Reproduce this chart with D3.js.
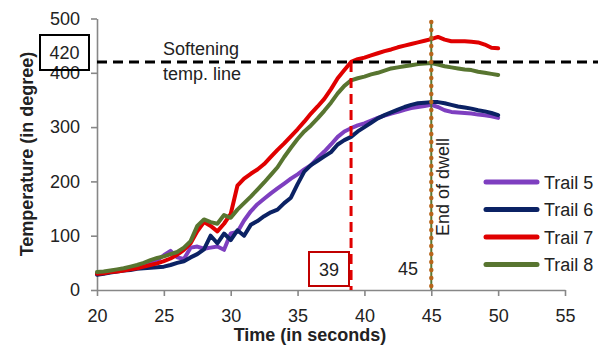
<!DOCTYPE html>
<html>
<head>
<meta charset="utf-8">
<script src="https://d3js.org/d3.v7.min.js"></script>
<style>
  body { margin: 0; background: #fff; }
  svg text { font-family: "Liberation Sans", Arial, sans-serif; fill: #222; }
</style>
</head>
<body>
<div id="chart"></div>
<script>
// time in seconds, sampled every half second
var time = [20,20.5,21,21.5,22,22.5,23,23.5,24,24.5,25,25.5,26,26.5,27,27.5,28,28.5,29,29.5,
            30,30.5,31,31.5,32,32.5,33,33.5,34,34.5,35,35.5,36,36.5,37,37.5,38,38.5,39,39.5,
            40,40.5,41,41.5,42,42.5,43,43.5,44,44.5,45,45.5,46,46.5,47,47.5,48,48.5,49,49.5,50];

var trail5 = [30,31,33,35,37,39,42,46,50,55,64,72,60,57,78,80,76,78,80,74,
              104,107,128,145,158,168,178,187,196,205,213,222,230,243,255,268,282,292,298,303,
              307,312,317,321,325,328,332,335,337,339,341,337,331,328,327,326,325,323,322,320,317];
var trail6 = [28,30,32,34,36,37,39,40,41,42,43,46,50,53,60,66,75,100,86,104,
              92,110,100,120,127,136,143,148,160,170,195,218,230,238,246,254,268,276,282,292,
              300,308,316,322,327,332,337,341,344,345,346,346,344,341,338,336,334,331,329,326,322];
var trail7 = [30,31,33,34,36,38,40,43,46,49,53,58,65,74,86,108,125,118,108,122,
              140,192,205,214,222,232,245,258,270,283,296,310,325,338,352,370,390,405,420,425,
              428,432,436,440,443,447,450,453,456,459,462,466,461,458,458,458,457,456,452,446,445];
var trail8 = [33,34,36,38,40,43,46,50,55,59,62,66,70,78,90,118,130,125,122,138,
              133,148,160,172,185,198,212,226,245,262,278,292,303,316,330,345,362,376,386,390,
              393,397,400,404,408,410,412,414,416,417,418,415,412,410,408,406,405,402,400,398,396];

var seriesNames = ["Trail 5", "Trail 6", "Trail 7", "Trail 8"];
var seriesColors = ["#7e3fc0", "#0b2264", "#e00000", "#587530"];
var seriesValues = [trail5, trail6, trail7, trail8];

var xTicks = [20, 25, 30, 35, 40, 45, 50, 55];
var yTicks = [0, 100, 200, 300, 400, 500];

var softeningTemp = 420;
var crossTime = 39;
var dwellTime = 45;

var width = 610, height = 350;
var margin = {left: 97, right: 45, top: 18.5, bottom: 60};

var svg = d3.select("#chart").append("svg")
    .attr("width", width)
    .attr("height", height);

var x = d3.scaleLinear().domain([20, 55]).range([margin.left, width - margin.right]);
var y = d3.scaleLinear().domain([0, 500]).range([height - margin.bottom, margin.top]);

// axes
var xAxis = svg.append("g")
    .attr("transform", "translate(0," + y(0) + ")")
    .call(d3.axisBottom(x).tickValues(xTicks).tickSize(6).tickPadding(13).tickSizeOuter(0));
var yAxis = svg.append("g")
    .attr("transform", "translate(" + x(20) + ",0)")
    .call(d3.axisLeft(y).tickValues(yTicks).tickSize(6).tickPadding(11).tickSizeOuter(0));

[xAxis, yAxis].forEach(function(ax) {
    ax.select(".domain").attr("stroke", "#878787").attr("stroke-width", 1.6);
    ax.selectAll(".tick line").attr("stroke", "#878787").attr("stroke-width", 1.6);
    ax.selectAll(".tick text").style("font-size", "18px").attr("fill", "#222");
});

// axis titles
svg.append("text")
    .attr("x", 310).attr("y", 341)
    .attr("text-anchor", "middle")
    .style("font-size", "18px").style("font-weight", "bold")
    .text("Time (in seconds)");
svg.append("text")
    .attr("transform", "translate(33,154) rotate(-90)")
    .attr("text-anchor", "middle")
    .style("font-size", "18px").style("font-weight", "bold")
    .text("Temperature (in degree)");

// series lines
var line = d3.line()
    .x(function(d, i) { return x(time[i]); })
    .y(function(d) { return y(d); });

seriesValues.forEach(function(vals, k) {
    svg.append("path")
        .datum(vals)
        .attr("d", line)
        .attr("fill", "none")
        .attr("stroke", seriesColors[k])
        .attr("stroke-width", 4)
        .attr("stroke-linejoin", "round")
        .attr("stroke-linecap", "round");
});

// softening temperature line
svg.append("line")
    .attr("x1", x(20)).attr("x2", 598)
    .attr("y1", y(softeningTemp)).attr("y2", y(softeningTemp))
    .attr("stroke", "#000").attr("stroke-width", 3)
    .attr("stroke-dasharray", "10,6");

// red vertical line where trail 7 crosses softening temp
svg.append("line")
    .attr("x1", x(crossTime)).attr("x2", x(crossTime))
    .attr("y1", y(softeningTemp)).attr("y2", y(0))
    .attr("stroke", "#e00000").attr("stroke-width", 3)
    .attr("stroke-dasharray", "10,6");

// end of dwell line
svg.append("line")
    .attr("x1", x(dwellTime)).attr("x2", x(dwellTime))
    .attr("y1", 22).attr("y2", y(0))
    .attr("stroke", "#587530").attr("stroke-width", 2);
svg.append("line")
    .attr("x1", x(dwellTime)).attr("x2", x(dwellTime))
    .attr("y1", 22).attr("y2", y(0))
    .attr("stroke", "#b8651b").attr("stroke-width", 4.5)
    .attr("stroke-linecap", "round")
    .attr("stroke-dasharray", "0,8");

// annotations
svg.append("rect")
    .attr("x", 40).attr("y", 35).attr("width", 49).attr("height", 35)
    .attr("fill", "none").attr("stroke", "#000").attr("stroke-width", 2);
svg.append("text")
    .attr("x", 64.5).attr("y", 59)
    .attr("text-anchor", "middle").style("font-size", "18px")
    .text(softeningTemp);

svg.append("text").attr("x", 163).attr("y", 55).style("font-size", "18px").text("Softening");
svg.append("text").attr("x", 163).attr("y", 80).style("font-size", "18px").text("temp. line");

svg.append("rect")
    .attr("x", 309).attr("y", 252).attr("width", 40).attr("height", 34)
    .attr("fill", "none").attr("stroke", "#c00000").attr("stroke-width", 2);
svg.append("text")
    .attr("x", 329).attr("y", 276)
    .attr("text-anchor", "middle").style("font-size", "18px")
    .text(crossTime);

svg.append("text")
    .attr("x", 408).attr("y", 275)
    .attr("text-anchor", "middle").style("font-size", "18px")
    .text(dwellTime);

svg.append("text")
    .attr("transform", "translate(449,187) rotate(-90)")
    .attr("text-anchor", "middle").style("font-size", "18px")
    .text("End of dwell");

// legend
var legend = svg.append("g");
seriesNames.forEach(function(name, k) {
    var ly = 182 + k * 27.5;
    legend.append("line")
        .attr("x1", 486).attr("x2", 537)
        .attr("y1", ly).attr("y2", ly)
        .attr("stroke", seriesColors[k]).attr("stroke-width", 5)
        .attr("stroke-linecap", "round");
    legend.append("text")
        .attr("x", 544).attr("y", ly + 6.5)
        .style("font-size", "18px")
        .text(name);
});
</script>
</body>
</html>
